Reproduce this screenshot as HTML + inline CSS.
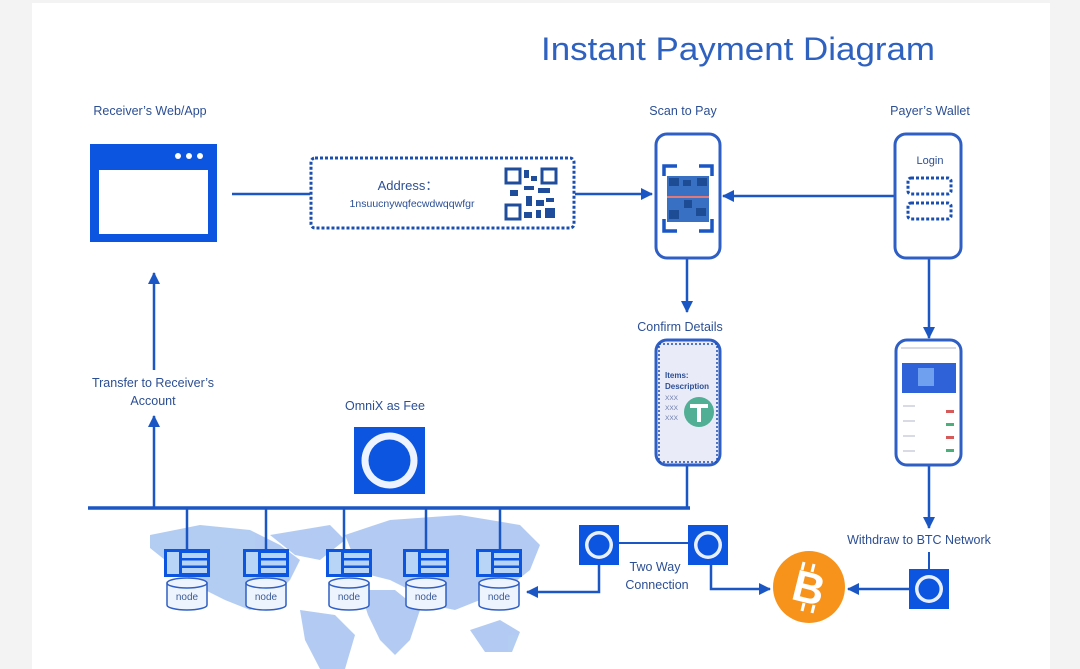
<!DOCTYPE html>
<html><head><meta charset="utf-8"><style>
html,body{margin:0;padding:0;background:#f3f3f3;}
svg{display:block;}
text{font-family:"Liberation Sans",sans-serif;}
</style></head><body>
<svg width="1080" height="669" viewBox="0 0 1080 669" xmlns="http://www.w3.org/2000/svg">
<defs>
<marker id="b" markerWidth="12" markerHeight="12" refX="11" refY="6" orient="auto" markerUnits="userSpaceOnUse"><path d="M0,0 L12,6 L0,12 z" fill="#1a56c4"/></marker>
<g id="omni"><rect x="0" y="0" width="40" height="40" fill="#0b55e0"/><circle cx="20" cy="20" r="14" fill="#e8f0ff"/><circle cx="20" cy="20" r="10.5" fill="#0b55e0"/></g>
<g id="srv"><rect x="0" y="0" width="46" height="28" fill="#0b55e0"/><rect x="3" y="3" width="12" height="22" fill="#b8d4f7"/><rect x="18" y="4" width="25" height="5" fill="#b8d4f7"/><rect x="18" y="11.5" width="25" height="5" fill="#b8d4f7"/><rect x="18" y="19" width="25" height="5" fill="#b8d4f7"/>
<path d="M3,34 v22 a20,5 0 0 0 40,0 v-22" fill="#eef4fd" stroke="#2f5fc4" stroke-width="1.5"/><ellipse cx="23" cy="34" rx="20" ry="5" fill="#eef4fd" stroke="#2f5fc4" stroke-width="1.5"/>
<text x="23" y="51" font-size="10" fill="#3b5a9a" text-anchor="middle">node</text></g>
</defs>
<rect x="32" y="3" width="1018" height="670" fill="#ffffff"/>
<!-- world map approximation -->
<g fill="#a6c3f0" opacity="0.85">
<path d="M150,535 L200,525 L250,530 L280,545 L300,560 L290,580 L270,600 L250,610 L225,600 L205,590 L185,575 L165,560 L150,548 z"/>
<path d="M300,610 L335,615 L355,635 L345,669 L320,669 L305,640 z"/>
<path d="M270,535 L330,525 L345,540 L320,560 L295,555 z"/>
<path d="M345,535 L390,520 L460,515 L520,525 L540,545 L530,570 L505,590 L480,600 L455,610 L430,605 L410,590 L390,580 L370,575 L355,560 z"/>
<path d="M360,590 L395,590 L420,610 L410,640 L395,655 L380,640 L368,615 z"/>
<path d="M470,630 L500,620 L520,632 L512,652 L485,652 z"/>
</g>
<text x="738" y="60" font-size="32" fill="#2f62c0" text-anchor="middle" textLength="394" lengthAdjust="spacingAndGlyphs">Instant Payment Diagram</text>
<g font-size="12.5" fill="#2c4f94" text-anchor="middle">
<text x="150" y="115">Receiver’s Web/App</text>
<text x="683" y="115">Scan to Pay</text>
<text x="930" y="115">Payer’s Wallet</text>
<text x="680" y="331">Confirm Details</text>
<text x="153" y="387">Transfer to Receiver’s</text>
<text x="153" y="405">Account</text>
<text x="385" y="410">OmniX as Fee</text>
<text x="919" y="544">Withdraw to BTC Network</text>
<text x="655" y="571">Two Way</text>
<text x="657" y="589">Connection</text>
</g>
<!-- window icon -->
<rect x="90" y="144" width="127" height="98" fill="#0b55e0"/>
<rect x="99" y="170" width="109" height="64" fill="#fff"/>
<circle cx="178" cy="156" r="3" fill="#fff"/><circle cx="189" cy="156" r="3" fill="#fff"/><circle cx="200" cy="156" r="3" fill="#fff"/>
<g stroke="#1a56c4" stroke-width="2.5" fill="none">
<line x1="232" y1="194" x2="310" y2="194"/>
<line x1="575" y1="194" x2="652" y2="194" marker-end="url(#b)"/>
<line x1="895" y1="196" x2="723" y2="196" marker-end="url(#b)"/>
<line x1="687" y1="258" x2="687" y2="312" marker-end="url(#b)"/>
<line x1="929" y1="258" x2="929" y2="338" marker-end="url(#b)"/>
<line x1="687" y1="465" x2="687" y2="508"/>
<line x1="929" y1="465" x2="929" y2="528" marker-end="url(#b)"/>
<line x1="154" y1="508" x2="154" y2="416" marker-end="url(#b)"/>
<line x1="154" y1="370" x2="154" y2="273" marker-end="url(#b)"/>
<line x1="88" y1="508" x2="690" y2="508" stroke-width="3.5"/>
<line x1="187" y1="508" x2="187" y2="549"/><line x1="266" y1="508" x2="266" y2="549"/><line x1="344" y1="508" x2="344" y2="549"/><line x1="426" y1="508" x2="426" y2="549"/><line x1="500" y1="508" x2="500" y2="549"/>
<line x1="619" y1="543" x2="688" y2="543" stroke-width="2"/>
<polyline points="599,565 599,592 527,592" marker-end="url(#b)"/>
<polyline points="711,565 711,589 770,589" marker-end="url(#b)"/>
<line x1="909" y1="589" x2="848" y2="589" marker-end="url(#b)"/>
<line x1="929" y1="552" x2="929" y2="570" stroke-width="2"/>
</g>
<!-- dashed address box -->
<rect x="311" y="158" width="263" height="70" rx="4" fill="#fff" stroke="#1a4fb0" stroke-width="3" stroke-dasharray="3,2"/>
<text x="408" y="190" font-size="13" fill="#2c4f94" text-anchor="middle">Address：</text>
<text x="412" y="207" font-size="10.5" fill="#2c4f94" text-anchor="middle">1nsuucnywqfecwdwqqwfgr</text>
<g fill="#1f4d9c">
<rect x="505" y="168" width="52" height="52" fill="#fff"/>
<rect x="506" y="169" width="14" height="14" fill="none" stroke="#1f4d9c" stroke-width="3"/>
<rect x="542" y="169" width="14" height="14" fill="none" stroke="#1f4d9c" stroke-width="3"/>
<rect x="506" y="205" width="14" height="14" fill="none" stroke="#1f4d9c" stroke-width="3"/>
<rect x="524" y="170" width="5" height="8"/><rect x="531" y="176" width="6" height="5"/><rect x="524" y="186" width="10" height="4"/><rect x="538" y="188" width="12" height="5"/><rect x="510" y="190" width="8" height="6"/><rect x="526" y="196" width="6" height="10"/><rect x="536" y="200" width="8" height="6"/><rect x="546" y="198" width="8" height="4"/><rect x="536" y="210" width="5" height="8"/><rect x="545" y="208" width="10" height="10"/><rect x="524" y="212" width="8" height="6"/>
</g>
<!-- phones -->
<g stroke="#2f5fc4" stroke-width="3">
<rect x="656" y="134" width="64" height="124" rx="11" fill="#fff"/>
<rect x="895" y="134" width="66" height="124" rx="11" fill="#fff"/>
<rect x="656" y="340" width="64" height="125" rx="11" fill="#e9ebf8"/>
<rect x="896" y="340" width="65" height="125" rx="11" fill="#fff"/>
</g>
<!-- scan -->
<rect x="667" y="176" width="42" height="46" fill="#3870c4"/>
<g fill="#1d4c94"><rect x="669" y="178" width="10" height="8"/><rect x="697" y="178" width="10" height="8"/><rect x="669" y="210" width="10" height="9"/><rect x="684" y="200" width="8" height="8"/><rect x="696" y="208" width="10" height="8"/><rect x="683" y="180" width="8" height="6"/></g>
<line x1="667" y1="197" x2="709" y2="197" stroke="#e07a7a" stroke-width="2"/>
<g fill="none" stroke="#1a56c4" stroke-width="3.5">
<polyline points="664,176 664,166 677,166"/><polyline points="699,166 712,166 712,176"/>
<polyline points="664,219 664,231 677,231"/><polyline points="699,231 712,231 712,219"/>
</g>
<!-- login -->
<text x="930" y="164" font-size="11" fill="#2c4f94" text-anchor="middle">Login</text>
<rect x="908" y="178" width="43" height="16" rx="3" fill="none" stroke="#1a4fb0" stroke-width="3" stroke-dasharray="3,2"/>
<rect x="908" y="203" width="43" height="16" rx="3" fill="none" stroke="#1a4fb0" stroke-width="3" stroke-dasharray="3,2"/>
<!-- confirm -->
<rect x="659" y="344" width="58" height="118" fill="none" stroke="#1a4fb0" stroke-width="1.5" stroke-dasharray="2,2"/>
<g font-size="8" fill="#2c4f94" font-weight="bold"><text x="665" y="378">Items:</text><text x="665" y="389">Description</text></g>
<g font-size="6.5" fill="#6a7aa8"><text x="665" y="400">XXX</text><text x="665" y="410">XXX</text><text x="665" y="420">XXX</text></g>
<circle cx="699" cy="412" r="15" fill="#50af95"/>
<path d="M690,404 h18 v4 h-7 v14 h-4 v-14 h-7 z" fill="#fff"/>
<!-- app screenshot -->
<rect x="902" y="363" width="54" height="30" fill="#2f62d8"/>
<rect x="918" y="368" width="16" height="18" fill="#6fa0f0"/>
<g fill="#d8dbe3"><rect x="901" y="347" width="55" height="2"/><rect x="903" y="405" width="12" height="2"/><rect x="903" y="420" width="12" height="2"/><rect x="903" y="435" width="12" height="2"/><rect x="903" y="450" width="12" height="2"/></g>
<g><rect x="946" y="410" width="8" height="3" fill="#d65a5a"/><rect x="946" y="423" width="8" height="3" fill="#4caf7a"/><rect x="946" y="436" width="8" height="3" fill="#d65a5a"/><rect x="946" y="449" width="8" height="3" fill="#4caf7a"/></g>
<!-- omni fee -->
<rect x="354" y="427" width="71" height="67" fill="#0b55e0"/>
<circle cx="389.5" cy="460.5" r="28" fill="#eef4ff"/>
<circle cx="389.5" cy="460.5" r="21" fill="#0b55e0"/>
<!-- nodes -->
<use href="#srv" x="164" y="549"/><use href="#srv" x="243" y="549"/><use href="#srv" x="326" y="549"/><use href="#srv" x="403" y="549"/><use href="#srv" x="476" y="549"/>
<!-- small omni -->
<use href="#omni" x="579" y="525"/><use href="#omni" x="688" y="525"/><use href="#omni" x="909" y="569"/>
<!-- bitcoin -->
<circle cx="809" cy="587" r="36" fill="#f7931a"/>
<text x="809" y="603" font-size="44" font-weight="bold" fill="#fff" text-anchor="middle" transform="rotate(14 809 587)">B</text>
<g stroke="#fff" stroke-width="3"><line x1="804" y1="562" x2="802" y2="570"/><line x1="814" y1="564" x2="812" y2="572"/><line x1="804" y1="603" x2="802" y2="611"/><line x1="814" y1="605" x2="812" y2="613"/></g>
</svg>
</body></html>
